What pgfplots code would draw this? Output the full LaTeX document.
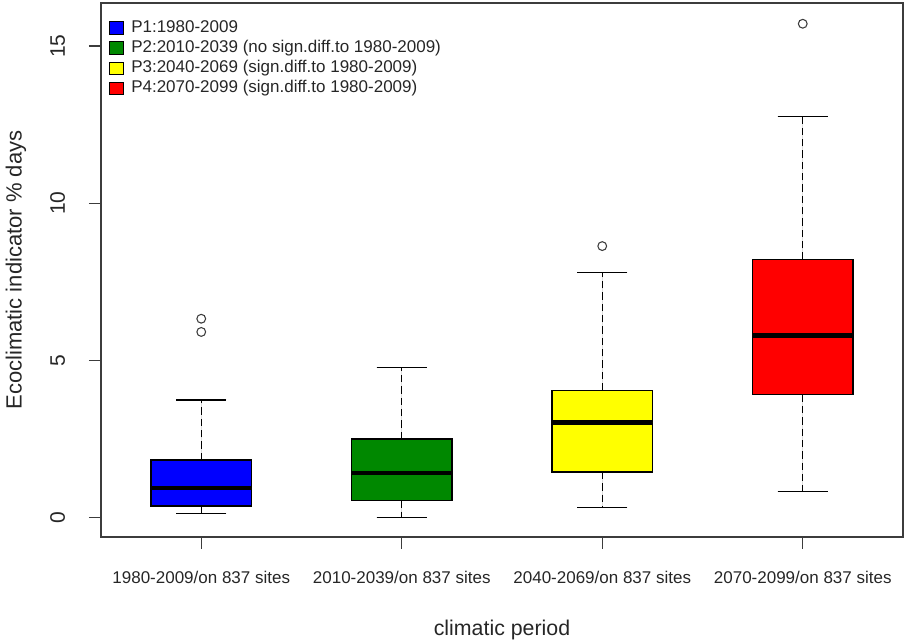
\documentclass[border=0pt]{standalone}
\usepackage{fontspec}
\setmainfont{Liberation Sans}
\usepackage{pgfplots}
\pgfplotsset{compat=1.18}
\usepgfplotslibrary{statistics}

\definecolor{p1blue}{RGB}{0,0,255}
\definecolor{p2green}{RGB}{0,136,0}
\definecolor{p3yellow}{RGB}{255,255,0}
\definecolor{p4red}{RGB}{255,0,0}
\definecolor{axisgray}{RGB}{60,60,60}

% R-style boxplot pieces: dashed whisker stems, solid caps, thick median
\pgfplotsset{
  boxplot/draw/lower whisker/.code={%
    \draw[black, line width=1pt, dash pattern=on 5.5pt off 3pt]
      (boxplot box cs:\pgfplotsboxplotvalue{lower quartile},0.5) --
      (boxplot box cs:\pgfplotsboxplotvalue{lower whisker},0.5);
    \draw[black, line width=1pt, solid]
      (boxplot whisker cs:\pgfplotsboxplotvalue{lower whisker},0) --
      (boxplot whisker cs:\pgfplotsboxplotvalue{lower whisker},1);
  },
  boxplot/draw/upper whisker/.code={%
    \draw[black, line width=1pt, dash pattern=on 5.5pt off 3pt]
      (boxplot box cs:\pgfplotsboxplotvalue{upper quartile},0.5) --
      (boxplot box cs:\pgfplotsboxplotvalue{upper whisker},0.5);
    \draw[black, line width=1pt, solid]
      (boxplot whisker cs:\pgfplotsboxplotvalue{upper whisker},0) --
      (boxplot whisker cs:\pgfplotsboxplotvalue{upper whisker},1);
  },
  boxplot/every box/.style={draw=black, line width=1pt},
  boxplot/every median/.style={draw=black, line width=3.2pt},
  rbox/.style={
    draw=black, line width=1pt,
    mark=o, mark size=3.3pt,
    mark options={draw=axisgray, line width=0.8pt, solid, fill=none},
  },
}

\begin{document}
\begin{tikzpicture}
\path[use as bounding box] (0pt,0pt) rectangle (678pt,480.75pt);
\begin{axis}[
  at={(75.75pt,78pt)}, anchor=south west,
  scale only axis, width=601.5pt, height=400.5pt,
  xmin=0.5, xmax=4.5, ymin=-0.61, ymax=16.37,
  boxplot/draw direction=y,
  axis line style={axisgray, line width=1pt},
  tick style={axisgray, line width=1pt},
  tick align=outside, major tick length=9pt,
  xtick pos=bottom, ytick pos=left,
  xtick={1,2,3,4},
  xticklabels={1980-2009/on 837 sites, 2010-2039/on 837 sites,
               2040-2069/on 837 sites, 2070-2099/on 837 sites},
  ytick={0,5,10,15},
  /pgf/number format/assume math mode=true,
  xticklabel shift=26.25pt,
  yticklabel shift=18pt,
  xticklabel style={font=\fontsize{12.75}{14}\selectfont, color=black!85, anchor=base, inner sep=0pt},
  yticklabel style={font=\fontsize{15.75}{18}\selectfont, color=black!85, rotate=90, anchor=base, inner sep=0pt},
  xlabel={climatic period},
  ylabel={Ecoclimatic indicator \% days},
  xlabel style={font=\fontsize{16}{19}\selectfont, color=black!85, at={(axis description cs:0.5,-0.18539)}, anchor=base, inner sep=0pt},
  ylabel style={font=\fontsize{16.5}{19}\selectfont, color=black!85, at={(axis description cs:-0.09892,0.5)}, anchor=base, inner sep=0pt},
  legend image code/.code={\fill[#1] (0pt,-4.65pt) rectangle (10.8pt,4.65pt);},
  legend style={
    at={(axis description cs:0.00914,0.97066)}, anchor=north west,
    draw=none, fill=none, inner sep=0pt,
    font=\fontsize{12.75}{15}\selectfont,
    nodes={inner sep=0pt, text height=10pt, text depth=3pt, text=black!85},
    row sep=2.15pt, column sep=5.8pt,
  },
  legend cell align=left,
  clip=false,
]
\addlegendimage{fill=p1blue}
\addlegendentry{P1:1980-2009}
\addlegendimage{fill=p2green}
\addlegendentry{P2:2010-2039 (no sign.diff.to 1980-2009)}
\addlegendimage{fill=p3yellow}
\addlegendentry{P3:2040-2069 (sign.diff.to 1980-2009)}
\addlegendimage{fill=p4red}
\addlegendentry{P4:2070-2099 (sign.diff.to 1980-2009)}

% P1: 1980-2009
\addplot[rbox, fill=p1blue, boxplot prepared={
    draw position=1, box extend=0.5, whisker extend=0.25,
    lower whisker=0.14, lower quartile=0.38, median=0.94,
    upper quartile=1.84, upper whisker=3.75}]
  coordinates {(0,6.33) (0,5.91)};

% P2: 2010-2039
\addplot[rbox, fill=p2green, boxplot prepared={
    draw position=2, box extend=0.5, whisker extend=0.25,
    lower whisker=0.02, lower quartile=0.56, median=1.42,
    upper quartile=2.51, upper whisker=4.78}]
  coordinates {};

% P3: 2040-2069
\addplot[rbox, fill=p3yellow, boxplot prepared={
    draw position=3, box extend=0.5, whisker extend=0.25,
    lower whisker=0.33, lower quartile=1.46, median=3.03,
    upper quartile=4.05, upper whisker=7.79}]
  coordinates {(0,8.64)};

% P4: 2070-2099
\addplot[rbox, fill=p4red, boxplot prepared={
    draw position=4, box extend=0.5, whisker extend=0.25,
    lower whisker=0.83, lower quartile=3.92, median=5.80,
    upper quartile=8.21, upper whisker=12.76}]
  coordinates {(0,15.71)};
\end{axis}
\end{tikzpicture}
\end{document}
